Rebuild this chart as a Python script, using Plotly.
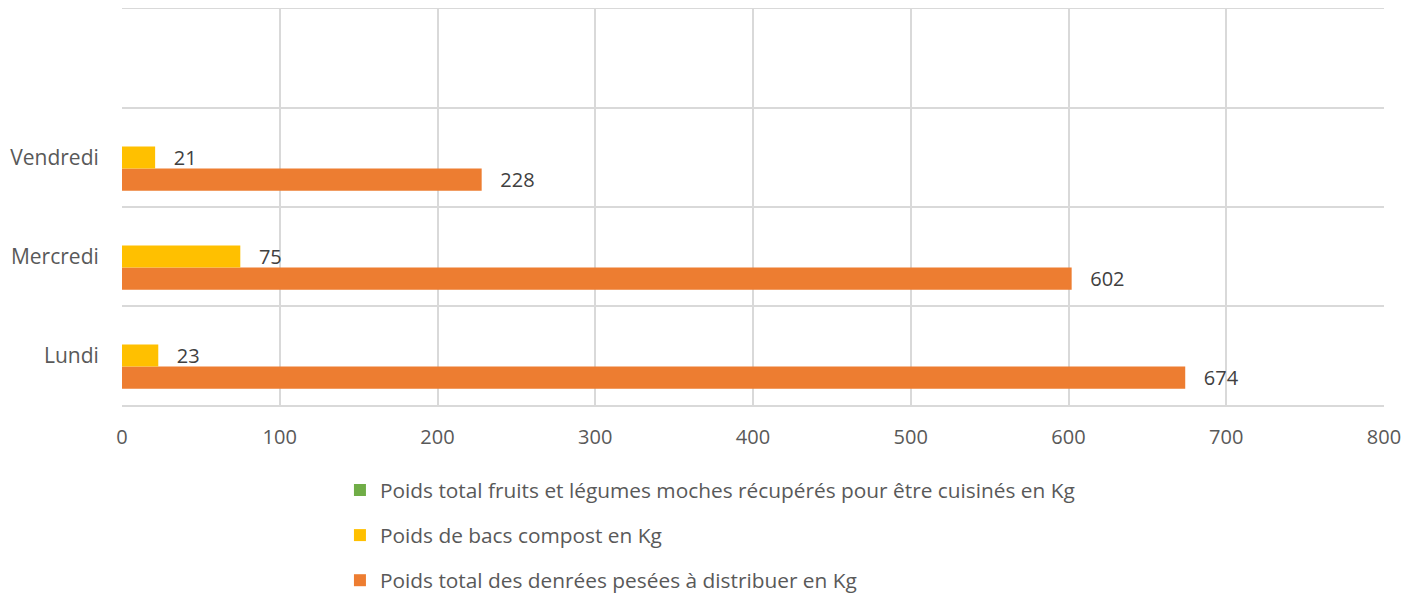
import plotly.graph_objects as go

categories = ["Lundi", "Mercredi", "Vendredi", ""]
ypos = [0, 1, 2]
series_names = [
    "Poids total fruits et légumes moches récupérés pour être cuisinés en Kg",
    "Poids de bacs compost en Kg",
    "Poids total des denrées pesées à distribuer en Kg",
]
fruits_legumes = [0, 0, 0]  # empty series (no visible bars)
bacs_compost = [23, 75, 21]
denrees = [674, 602, 228]
colors = ["#70AD47", "#FFC000", "#ED7D31"]

FONT = "Open Sans"
FS = 21
TXT = "#595959"
GRID = "#D9D9D9"

fig = go.Figure()
# bottom-to-top order inside each group
for name, vals, col, grp, rank, show_text in [
    (series_names[2], denrees, colors[2], "c", 3, True),
    (series_names[1], bacs_compost, colors[1], "b", 2, True),
    (series_names[0], fruits_legumes, colors[0], "a", 1, False),
]:
    fig.add_trace(go.Bar(
        y=ypos, x=vals, name=name, orientation="h",
        marker=dict(color=col, line=dict(width=0)),
        texttemplate="   %{x}" if show_text else "",
        textposition="outside", constraintext="none",
        textfont=dict(family=FONT, size=20, color="#404040"),
        cliponaxis=False, legendgroup=grp, legendrank=rank,
    ))

fig.update_layout(
    width=1421, height=595,
    margin=dict(l=114, r=45, t=1, b=198, pad=0, autoexpand=False),
    plot_bgcolor="white", paper_bgcolor="white",
    barmode="group", bargap=0.33, bargroupgap=0,
    font=dict(family=FONT, size=FS, color=TXT),
    legend=dict(
        orientation="v", x=0.1727, xanchor="left", y=-0.164, yanchor="top",
        traceorder="grouped", tracegroupgap=15,
        font=dict(family=FONT, size=20.85, color=TXT),
    ),
    xaxis=dict(
        range=[0, 800], dtick=100, tick0=0, showgrid=True, gridcolor=GRID, gridwidth=1.5,
        zeroline=False, showline=True, mirror=True, linecolor=GRID, linewidth=1.5,
        ticks="outside", ticklen=13, tickcolor="rgba(0,0,0,0)",
        tickfont=dict(family=FONT, size=20, color=TXT),
    ),
    yaxis=dict(
        range=[-0.5, 3.5], tickvals=[0, 1, 2, 3], ticktext=categories,
        showgrid=False, zeroline=False, showline=False,
        minor=dict(tick0=0.5, dtick=1, showgrid=True, gridcolor=GRID, gridwidth=1.5),
        ticks="outside", ticklen=18, tickcolor="rgba(0,0,0,0)",
        tickfont=dict(family=FONT, size=FS, color=TXT),
    ),
)

fig.write_html("out.html")
